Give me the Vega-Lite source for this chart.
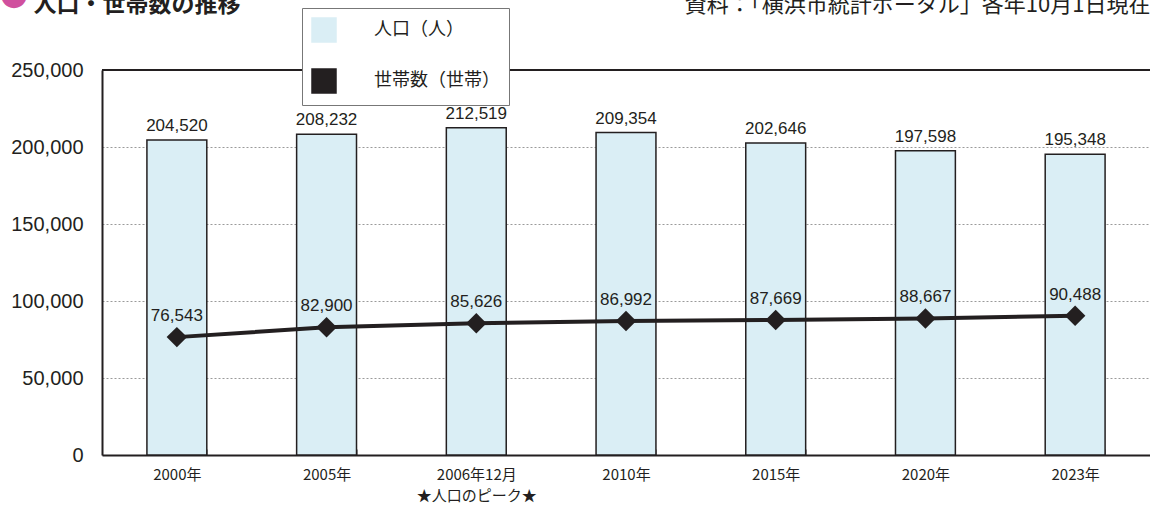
{
  "$schema": "https://vega.github.io/schema/vega-lite/v6.json",
  "autosize": {"type": "none"},
  "padding": {"left": 102, "top": 70, "right": 0, "bottom": 52},
  "width": 1048,
  "height": 385,
  "background": "white",
  "title": {"text": "●", "anchor": "start", "color": "#d0509e", "fontSize": 28, "font": "Noto Sans CJK JP", "frame": "group", "offset": 0, "dx": -102, "dy": 20},
  "config": {"view": {"stroke": null}, "font": "Noto Sans CJK JP"},
  "data": {"values": [
    {"year": "2000年", "pop": 204520, "hh": 76543},
    {"year": "2005年", "pop": 208232, "hh": 82900},
    {"year": "2006年12月", "pop": 212519, "hh": 85626},
    {"year": "2010年", "pop": 209354, "hh": 86992},
    {"year": "2015年", "pop": 202646, "hh": 87669},
    {"year": "2020年", "pop": 197598, "hh": 88667},
    {"year": "2023年", "pop": 195348, "hh": 90488}
  ]},
  "encoding": {
    "x": {
      "field": "year", "type": "nominal", "sort": null,
      "title": "資料：「横浜市統計ポータル」各年10月1日現在",
      "scale": {"paddingInner": 0.6, "paddingOuter": 0.3},
      "axis": {
        "labelAngle": 0, "labelFont": "Noto Sans CJK JP", "labelFontSize": 15, "labelColor": "#231f20",
        "labelBaseline": "top", "labelPadding": 18, "labelLineHeight": 21,
        "labelExpr": "datum.value == '2006年12月' ? ['2006年12月', '★人口のピーク★'] : datum.value",
        "ticks": true, "tickBand": "extent", "tickSize": -6, "tickColor": "#999", "tickWidth": 1,
        "domainColor": "#231f20", "domainWidth": 2,
        "titleX": 1048, "titleY": -444, "titleAlign": "right", "titleAnchor": null, "titleBaseline": "alphabetic",
        "titleFont": "Noto Sans CJK JP", "titleFontSize": 22, "titleFontWeight": "normal", "titleColor": "#231f20"
      }
    }
  },
  "layer": [
    {
      "mark": {"type": "bar", "stroke": "#231f20", "strokeWidth": 1.5},
      "encoding": {
        "y": {
          "field": "pop", "type": "quantitative", "title": "人口・世帯数の推移",
          "scale": {"domain": [0, 250000], "nice": false, "zero": true},
          "axis": {
            "values": [0, 25000, 50000, 75000, 100000, 125000, 150000, 175000, 200000, 225000, 250000],
            "labelOverlap": false,
            "format": ",d", "ticks": false, "labelPadding": 19,
            "labelFont": "Liberation Sans", "labelFontSize": 20, "labelColor": "#231f20",
            "domainColor": "#231f20", "domainWidth": 2,
            "grid": true, "gridColor": "#9a9a9a", "gridDash": [2, 2], "gridWidth": 1,
            "titleAngle": 0, "titleX": -69, "titleY": -59, "titleAlign": "left", "titleBaseline": "alphabetic",
            "titleFont": "Noto Sans CJK JP", "titleFontSize": 23, "titleFontWeight": "bold", "titleColor": "#231f20"
          }
        },
        "color": {
          "datum": "人口（人）",
          "scale": {"domain": ["人口（人）", "世帯数（世帯）"], "range": ["#daeef5", "#231f20"]},
          "legend": {
            "orient": "none", "legendX": 200, "legendY": -62, "title": null,
            "fillColor": "white", "strokeColor": "#777", "padding": 9,
            "symbolSize": 576, "rowPadding": 21, "labelOffset": 37,
            "labelFont": "Noto Sans CJK JP", "labelFontSize": 18, "labelColor": "#231f20",
            "encode": {"symbols": {
              "shape": {"value": {"signal": "datum.value === '人口（人）' ? 'M0,-0.33H3.5V0.33H0Z' : 'M0,0H3.5M2,-0.54L2.54,0L2,0.54L1.46,0Z'"}},
              "fill": {"value": {"signal": "datum.value === '人口（人）' ? '#daeef5' : '#231f20'"}},
              "stroke": {"value": "#231f20"},
              "strokeWidth": {"value": {"signal": "datum.value === '人口（人）' ? 1.2 : 3"}},
              "opacity": {"value": 1}
            }}
          }
        }
      }
    },
    {
      "mark": {"type": "rule", "stroke": "#231f20", "strokeWidth": 2},
      "encoding": {"y": {"datum": 250000, "type": "quantitative", "title": "人口・世帯数の推移"}, "x": null}
    },
    {
      "mark": {"type": "text", "dy": -9, "baseline": "alphabetic", "font": "Liberation Sans", "fontSize": 17, "fill": "#231f20"},
      "encoding": {
        "y": {"field": "pop", "type": "quantitative", "title": "人口・世帯数の推移"},
        "text": {"field": "pop", "type": "quantitative", "format": ","}
      }
    },
    {
      "mark": {"type": "line", "strokeWidth": 4},
      "encoding": {
        "y": {"field": "hh", "type": "quantitative", "title": "人口・世帯数の推移"},
        "color": {"datum": "世帯数（世帯）"}
      }
    },
    {
      "mark": {"type": "point", "shape": "diamond", "filled": true, "size": 420, "opacity": 1},
      "encoding": {
        "y": {"field": "hh", "type": "quantitative", "title": "人口・世帯数の推移"},
        "color": {"datum": "世帯数（世帯）"}
      }
    },
    {
      "mark": {"type": "text", "dy": -16, "baseline": "alphabetic", "font": "Liberation Sans", "fontSize": 17, "fill": "#231f20"},
      "encoding": {
        "y": {"field": "hh", "type": "quantitative", "title": "人口・世帯数の推移"},
        "text": {"field": "hh", "type": "quantitative", "format": ","}
      }
    }
  ]
}
